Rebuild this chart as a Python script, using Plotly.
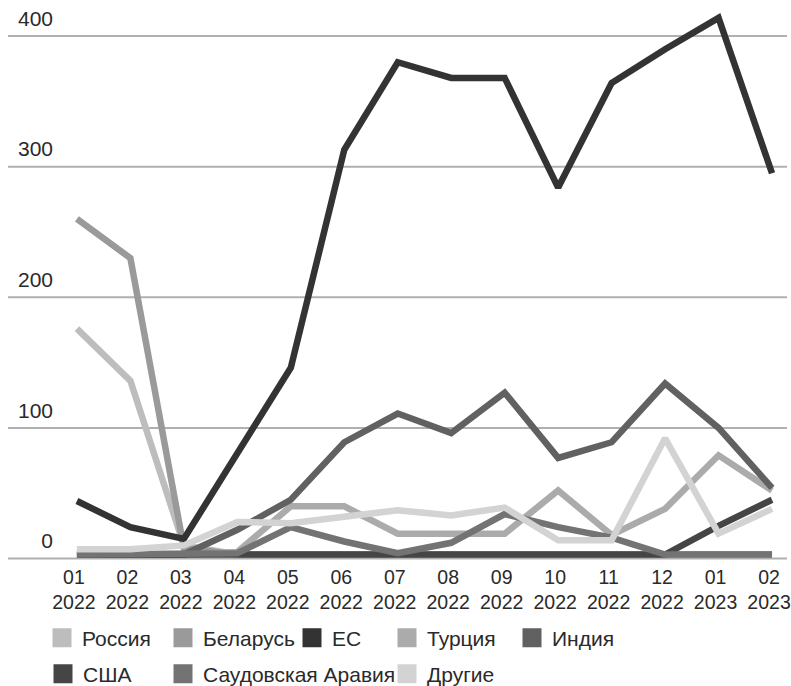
import plotly.graph_objects as go

months = ["01<br>2022", "02<br>2022", "03<br>2022", "04<br>2022", "05<br>2022", "06<br>2022",
          "07<br>2022", "08<br>2022", "09<br>2022", "10<br>2022", "11<br>2022", "12<br>2022",
          "01<br>2023", "02<br>2023"]

russia  = [176, 136, 10, 3, 3, 3, 3, 3, 3, 3, 3, 3, 3, 3]
belarus = [260, 230, 8, 3, 3, 3, 3, 3, 3, 3, 3, 3, 3, 3]
eu      = [44, 24, 15, 80, 146, 313, 380, 368, 368, 284, 364, 390, 414, 295]
turkey  = [3, 3, 3, 5, 40, 40, 19, 19, 19, 52, 18, 38, 79, 52]
india   = [3, 3, 3, 22, 45, 89, 111, 96, 127, 77, 89, 134, 100, 54]
usa     = [3, 3, 3, 3, 3, 3, 3, 3, 3, 3, 3, 3, 25, 45]
saudi   = [3, 3, 3, 4, 24, 13, 4, 12, 34, 24, 16, 3, 3, 3]
others  = [7, 7, 10, 28, 27, 32, 37, 33, 39, 14, 14, 92, 19, 38]

names  = ["Россия", "Беларусь", "ЕС", "Турция", "Индия", "США", "Саудовская Аравия", "Другие"]
series = [russia, belarus, eu, turkey, india, usa, saudi, others]
colors = ["#bdbdbd", "#9a9a9a", "#333333", "#ababab", "#616161", "#454545", "#737373", "#d3d3d3"]

y_ticks = [0, 100, 200, 300, 400]

FONT = "Liberation Sans, Arial, sans-serif"
W, H = 791, 686
L, R, T, B = 55, 4, 10, 121
PW, PH = W - L - R, H - T - B

# legend layout (text start x px, row center y px)
leg_pos = [(82, 638), (203, 638), (332, 638), (427, 638), (552, 638),
           (83, 674), (203, 674), (427, 674)]

fig = go.Figure()
xs = list(range(len(months)))
for nm, vals, c in zip(names, series, colors):
    fig.add_trace(go.Scatter(x=xs, y=vals, mode="lines", name=nm,
                             line=dict(color=c, width=6.5), showlegend=False,
                             hoverinfo="skip"))

layout_legends = {}
for i, (nm, c) in enumerate(zip(names, colors)):
    key = "legend" if i == 0 else f"legend{i+1}"
    fig.add_trace(go.Scatter(x=[None], y=[None], mode="markers", name=nm,
                             marker=dict(symbol="square", size=16, color=c,
                                         line=dict(color=c, width=3)),
                             legend=key, showlegend=True))
    tx, ty = leg_pos[i]
    layout_legends[key] = dict(
        x=(tx - 40 - L) / PW, y=(H - B - ty) / PH, xanchor="left", yanchor="middle",
        orientation="h", bgcolor="rgba(0,0,0,0)", borderwidth=0,
        font=dict(family=FONT, size=21, color="#2a2a2a"))

# gridlines extending to the left edge
for v in y_ticks:
    fig.add_shape(type="line", xref="paper", yref="y", x0=(8 - L) / PW, x1=1,
                  y0=v, y1=v, line=dict(color="#b0b0b0", width=2), layer="below")

fig.update_layout(
    width=W, height=H,
    margin=dict(l=L, r=R, t=T, b=B, autoexpand=False),
    paper_bgcolor="white", plot_bgcolor="white",
    font=dict(family=FONT, size=21, color="#2a2a2a"),
    **layout_legends,
)
fig.update_xaxes(tickmode="array", tickvals=xs, ticktext=months,
                 range=[-0.41, 13.28], showgrid=False, zeroline=False,
                 showline=False, ticks="", automargin=False,
                 ticklabeloverflow="allow", ticklabelstandoff=-2, ticklabelshift=-3,
                 tickfont=dict(size=19.5, color="#2a2a2a"))
fig.update_yaxes(tickmode="array", tickvals=y_ticks, ticktext=[str(v) for v in y_ticks],
                 range=[-5, 420], showgrid=False, zeroline=False, showline=False,
                 ticks="", ticklabelposition="outside top", ticklabelstandoff=1,
                 ticklabelshift=-3, automargin=False,
                 tickfont=dict(size=21, color="#2a2a2a"))

fig.write_html(
    "out.html",
    config={"displayModeBar": False},
    post_script="document.body.style.margin='0';document.body.style.overflow='hidden';",
)
